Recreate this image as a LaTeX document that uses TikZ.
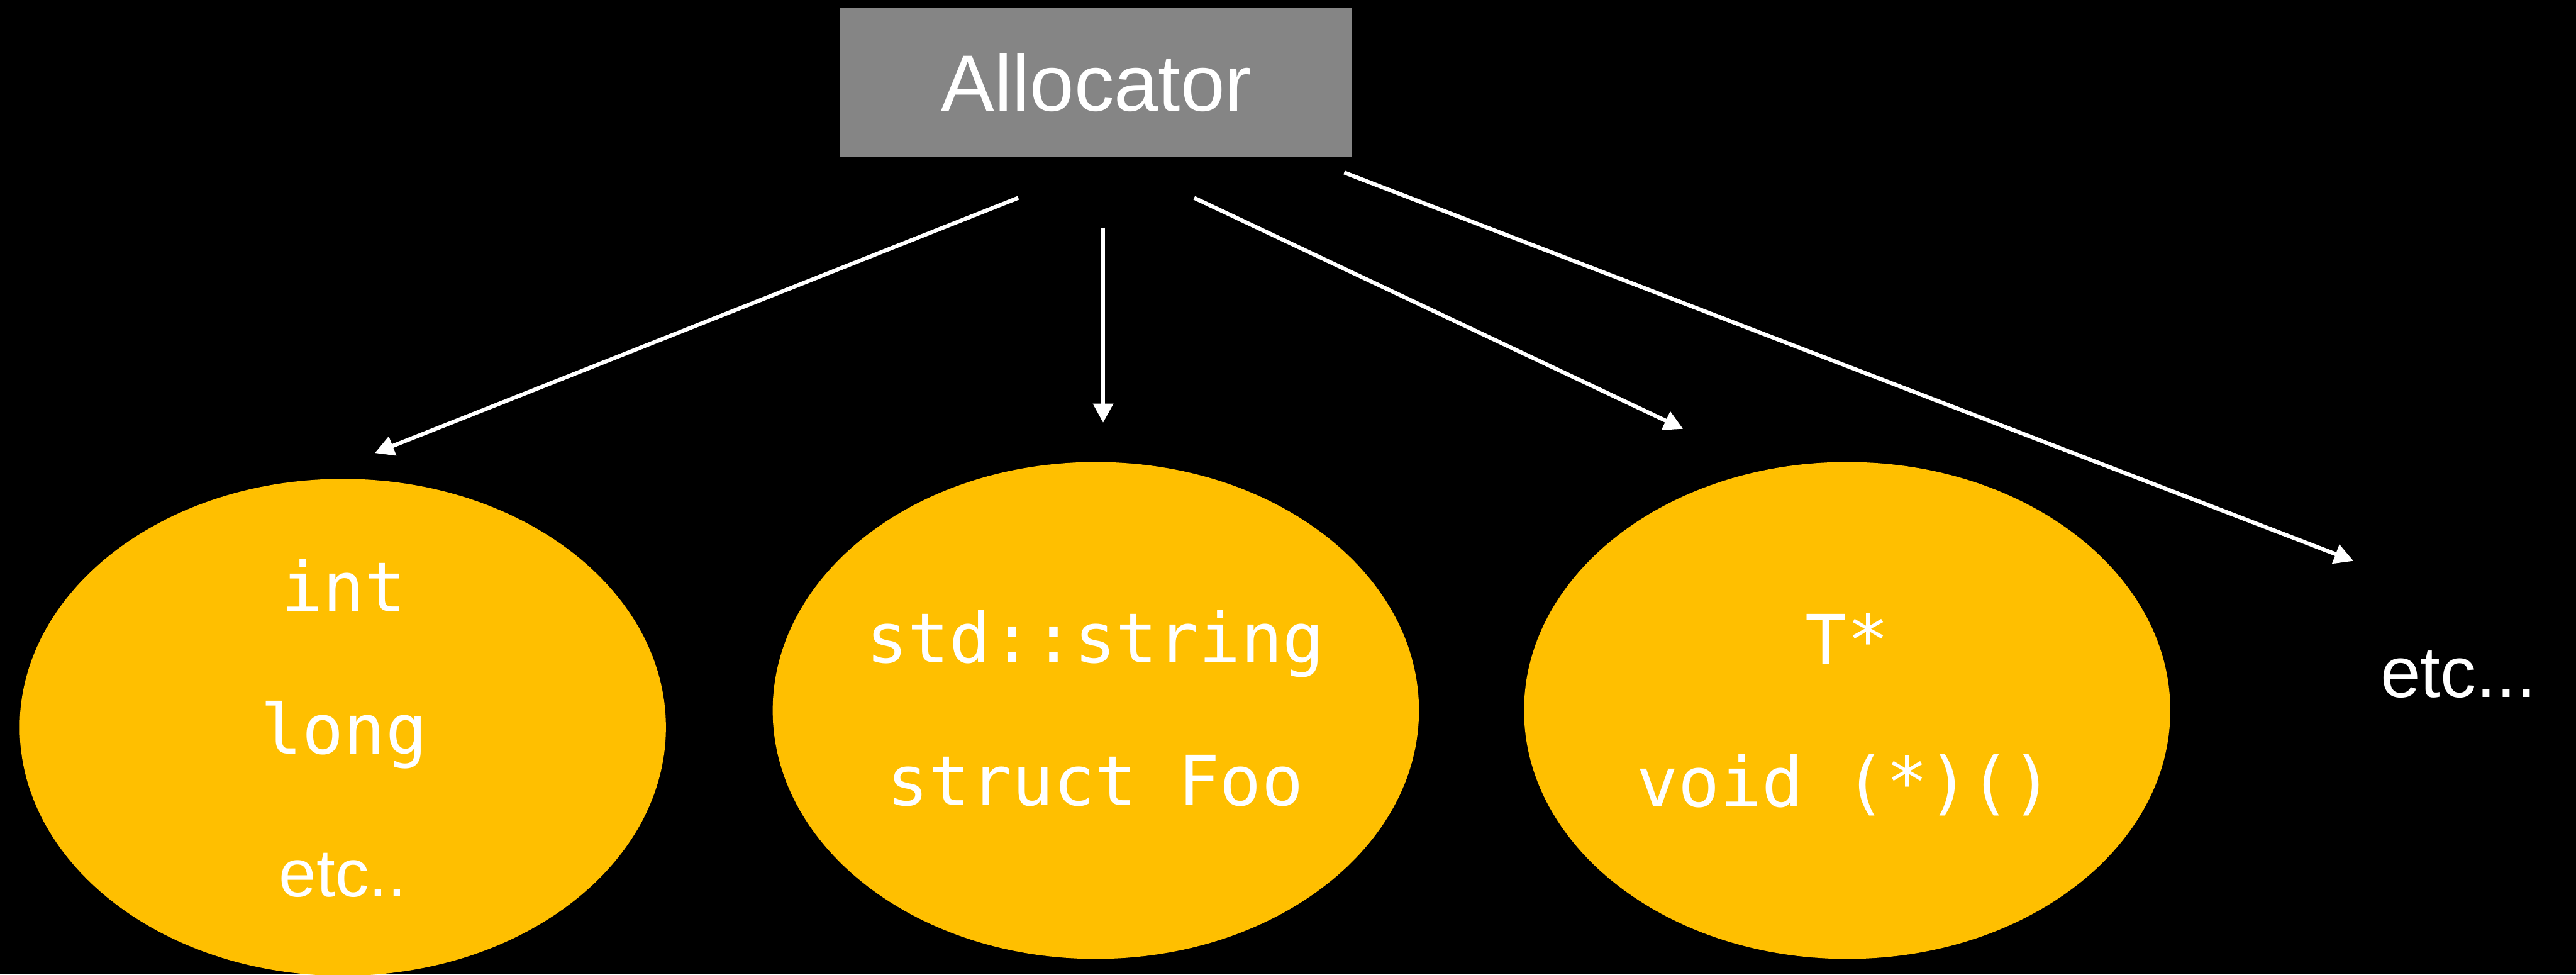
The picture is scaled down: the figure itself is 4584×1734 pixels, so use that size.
\documentclass[tikz,border=0pt]{standalone}
\usepackage{fontspec}
\setmainfont{Liberation Sans}
\setmonofont{DejaVu Sans Mono}
\usetikzlibrary{arrows.meta,shapes.geometric}
\definecolor{boxgray}{HTML}{858585}
\definecolor{amber}{HTML}{FFBF00}
\begin{document}
\begin{tikzpicture}[x=1pt,y=-1pt,
  bubble/.style={ellipse,fill=amber,draw=none,minimum width=1150pt,minimum height=884pt,inner sep=0pt},
  mono/.style={text=white,anchor=base,inner sep=0pt,font=\fontsize{123}{140}\selectfont\ttfamily},
  sans/.style={text=white,anchor=base,inner sep=0pt},
  conn/.style={draw=white,line width=7pt,-{Triangle[length=34pt,width=35pt]}}]
\fill[black] (0,0) rectangle (4584,1734);
\useasboundingbox (0,0) rectangle (4584,1734);
% allocator
\node[fill=boxgray,minimum width=909pt,minimum height=266pt,inner sep=0pt] (alloc) at (1950,146) {};
\node[sans,font=\fontsize{142}{170}\selectfont] (alloctext) at (1951,197) {Allocator};
% bubbles
\node[bubble] (b1) at (610,1294) {};
\node[bubble] (b2) at (1950,1264) {};
\node[bubble] (b3) at (3287,1264) {};
\node[mono] (t1a) at (612,1088) {int};
\node[mono] (t1b) at (612,1341) {long};
\node[sans,font=\fontsize{120}{140}\selectfont] (t1c) at (610,1595) {etc..};
\node[mono] (t2a) at (1949,1179) {std::string};
\node[mono] (t2b) at (1949,1433) {struct Foo};
\node[mono] (t3a) at (3287,1182) {T*};
\node[mono] (t3b) at (3283,1435) {void (*)()};
\node[sans,font=\fontsize{128}{150}\selectfont] (etc) at (4375,1240) {etc...};
% connector ends
\coordinate (s1) at (1812,352);
\coordinate (e1) at (667,806);
\coordinate (s2) at (1963,405);
\coordinate (e2) at (1963,752);
\coordinate (s3) at (2125,352);
\coordinate (e3) at (2995,763);
\coordinate (s4) at (2392,307);
\coordinate (e4) at (4188,998);
\draw[conn] (s1) -- (e1);
\draw[conn] (s2) -- (e2);
\draw[conn] (s3) -- (e3);
\draw[conn] (s4) -- (e4);
\end{tikzpicture}
\end{document}
